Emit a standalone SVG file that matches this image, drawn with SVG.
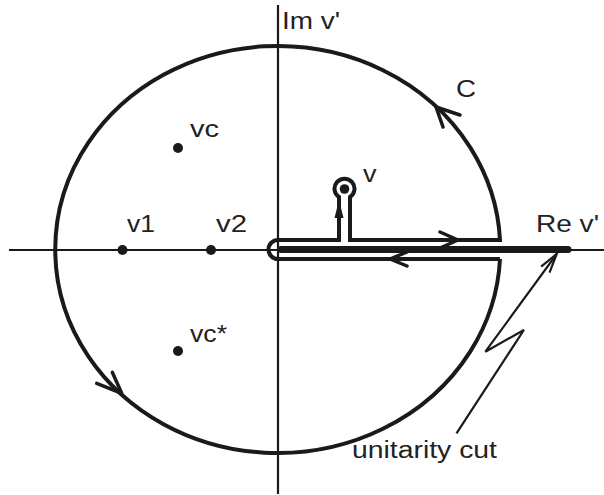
<svg xmlns="http://www.w3.org/2000/svg" width="604" height="495" viewBox="0 0 604 495">
<style>
.axis{stroke:#1a1a1a;fill:none}
.contour{stroke:#1a1a1a;stroke-width:4;fill:none;stroke-linejoin:miter}
.chev{stroke:#1a1a1a;stroke-width:3.5;fill:none;stroke-linecap:round;stroke-linejoin:round}
.thin{stroke:#1a1a1a;stroke-width:2.2;fill:none;stroke-linejoin:miter}
.dot{fill:#1a1a1a}
.lbl{font-family:"Liberation Sans",Arial,sans-serif;font-size:23.5px;fill:#222}
</style>
<rect width="604" height="495" fill="#fff"/>
<g id="axes">
<line class="axis" x1="9" y1="250" x2="604" y2="250" stroke-width="1.8"/>
<line class="axis" x1="278" y1="5" x2="278" y2="494" stroke-width="2.2"/>
</g>
<g id="connectors">
<path id="contour-C" class="contour" d="M500,259 L278,259 A9.5,9.5 0 0 1 278,240 L339,240 L339,197 A10,10 0 1 1 350,197 L350,240 L500,240 A222.5,203.5 0 1 0 500,259"/>
<path id="cut" d="M281,249.5 L568,249.5" stroke="#1a1a1a" stroke-width="7" stroke-linecap="round" fill="none"/>
<path class="chev" d="M460,115 L436,107 L443,127"/>
<path class="chev" d="M96.7,383.3 L121.7,393.3 L112.3,372.3"/>
<path class="chev" d="M440,232 L458,240 L440,248"/>
<path class="chev" d="M407,252 L390,259 L407,266"/>
<polygon points="339,200 334.5,218 343.5,218" class="dot"/>
<path id="unitarity-arrow" class="thin" d="M456.5,433.3 L523.9,330 L485.4,351.7 L556.7,254"/>
<path class="thin" d="M541.1,266.6 L556.7,254 L549.5,272.7"/>
</g>
<g id="node-v"><circle class="dot" cx="344.5" cy="189" r="4.8"/></g>
<g id="node-vc"><circle class="dot" cx="178" cy="148" r="5"/></g>
<g id="node-vcstar"><circle class="dot" cx="178" cy="351" r="5"/></g>
<g id="node-v1"><circle class="dot" cx="122.5" cy="250" r="5"/></g>
<g id="node-v2"><circle class="dot" cx="211" cy="250" r="5"/></g>
<g id="labels">
<text class="lbl" x="282" y="29" textLength="58" lengthAdjust="spacingAndGlyphs">Im v'</text>
<text class="lbl" x="536" y="232" textLength="63" lengthAdjust="spacingAndGlyphs">Re v'</text>
<text class="lbl" x="456" y="97" textLength="20" lengthAdjust="spacingAndGlyphs">C</text>
<text class="lbl" x="190" y="137" textLength="29" lengthAdjust="spacingAndGlyphs">vc</text>
<text class="lbl" x="190" y="342" textLength="37" lengthAdjust="spacingAndGlyphs">vc*</text>
<text class="lbl" x="363" y="182" textLength="13.5" lengthAdjust="spacingAndGlyphs">v</text>
<text class="lbl" x="127" y="232" textLength="28" lengthAdjust="spacingAndGlyphs">v1</text>
<text class="lbl" x="216" y="232" textLength="31" lengthAdjust="spacingAndGlyphs">v2</text>
<text class="lbl" x="352" y="458" textLength="145" lengthAdjust="spacingAndGlyphs">unitarity cut</text>
</g>
</svg>
